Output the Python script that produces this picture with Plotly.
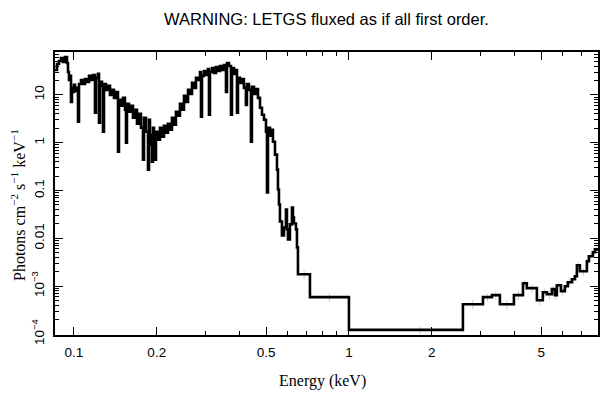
import math
import plotly.graph_objects as go

# Step-spectrum: bin left edges (keV) and flux (photons cm^-2 s^-1 keV^-1)
energy = [
    0.0840, 0.08673, 0.08819, 0.08969, 0.09120, 0.09274, 0.09431, 0.09510, 0.09590, 0.09671,
    0.09752, 0.09834, 0.09917, 0.1000, 0.10084, 0.10255, 0.10341, 0.10428, 0.10604, 0.10783,
    0.10965, 0.1115, 0.11339, 0.1153, 0.11725, 0.11923, 0.12023, 0.12226, 0.12329, 0.12433,
    0.12643, 0.12749, 0.12857, 0.13074, 0.13295, 0.1352, 0.13748, 0.13981, 0.14217, 0.14454,
    0.14576, 0.14822, 0.15073, 0.15327, 0.15456, 0.15586, 0.15849, 0.16117, 0.16389, 0.16666,
    0.16947, 0.17234, 0.17525, 0.17821, 0.17971, 0.18274, 0.18583, 0.18739, 0.18897, 0.19055,
    0.19216, 0.19377, 0.1954, 0.19705, 0.1987, 0.20202, 0.20543, 0.2089, 0.21242, 0.21601,
    0.21966, 0.22338, 0.22715, 0.23099, 0.23489, 0.23885, 0.24288, 0.24698, 0.25126, 0.2555,
    0.25983, 0.2642, 0.26866, 0.2732, 0.2778, 0.2825, 0.28725, 0.28968, 0.2921, 0.2970,
    0.30201, 0.30711, 0.30969, 0.3123, 0.31758, 0.32295, 0.32838, 0.33393, 0.33957, 0.3453,
    0.35117, 0.3571, 0.36012, 0.3662, 0.37237, 0.37548, 0.38182, 0.38826, 0.39151, 0.3948,
    0.40134, 0.40812, 0.4150, 0.4220, 0.42556, 0.43272, 0.44008, 0.44372, 0.45151, 0.45914,
    0.46688, 0.47475, 0.48276, 0.4909, 0.49916, 0.50335, 0.5076, 0.51615, 0.5249, 0.5293,
    0.53825, 0.5473, 0.55184, 0.5565, 0.56117, 0.57063, 0.58025, 0.59004, 0.5950, 0.6000,
    0.61013, 0.62044, 0.62566, 0.63092, 0.64158, 0.64698, 0.65242, 0.72142, 1.0, 2.597,
    3.072, 3.311, 3.540, 3.981, 4.295, 4.436, 4.826, 5.072, 5.248, 5.470,
    5.610, 5.702, 5.902, 6.098, 6.252, 6.471, 6.637, 6.746, 6.918, 7.334,
    7.458, 7.712, 7.846, 8.2,
]
flux = [
    33.2, 44.2, 51.1, 59.0, 48.7, 62.0, 46.4, 30.1, 20.5, 24.9,
    7.15, 14.0, 11.5, 16.2, 12.1, 14.0, 2.74, 16.9, 20.5, 16.9,
    21.5, 18.7, 24.9, 20.5, 26.1, 4.22, 22.6, 27.4, 2.61, 18.7,
    15.4, 1.69, 16.9, 12.7, 15.4, 10.0, 12.7, 8.66, 11.5, 0.649,
    7.87, 5.90, 8.66, 4.87, 1.0, 6.49, 4.42, 5.90, 3.32, 4.87,
    2.49, 4.02, 2.05, 0.442, 3.32, 1.69, 0.274, 3.02, 1.47, 0.909,
    0.402, 2.05, 1.155, 0.442, 1.69, 1.155, 2.05, 1.33, 2.26, 1.62,
    2.49, 1.87, 3.32, 2.37, 4.42, 3.65, 6.49, 4.87, 9.53, 7.15,
    12.7, 10.5, 17.8, 14.0, 22.6, 20.5, 30.1, 3.48, 24.9, 31.6,
    26.1, 34.8, 3.83, 30.1, 36.5, 28.7, 38.3, 31.6, 40.2, 33.2,
    42.2, 11.5, 46.4, 40.2, 3.83, 36.5, 27.4, 33.2, 4.22, 22.6,
    17.8, 21.5, 14.0, 6.19, 16.9, 12.7, 1.05, 14.7, 10.5, 13.3,
    8.66, 5.36, 3.83, 3.02, 1.69, 0.0908, 2.05, 1.40, 1.87, 1.05,
    0.562, 0.274, 0.105, 0.0511, 0.0226, 0.01155, 0.0169, 0.0402, 0.0154, 0.00953,
    0.0196, 0.0442, 0.0274, 0.0205, 0.0154, 0.00649, 0.00178, 0.00059, 0.000122, 0.00042,
    0.00059, 0.00065, 0.00042, 0.00065, 0.00115, 0.00091, 0.00051, 0.00075, 0.00068, 0.00087,
    0.00065, 0.00105, 0.00079, 0.0010, 0.00121, 0.0014, 0.00162, 0.00274, 0.00205, 0.00332,
    0.00422, 0.00511, 0.0059, 0.0059,
]

# Faint error bars (bin centres, values, 1-sigma)
err_energy = [0.6867, 0.8494, 1.81, 2.82, 3.19, 3.42, 3.75, 4.13, 4.36, 4.63,
              4.95, 5.16, 5.36, 5.54, 5.66, 5.80, 6.00, 6.17, 6.36, 6.55,
              6.69, 6.83, 7.12, 7.40, 7.58, 7.78, 7.95]
err_flux = [0.00178, 0.00059, 0.000122, 0.00042, 0.00059, 0.00065, 0.00042, 0.00065, 0.00115, 0.00091,
            0.00051, 0.00075, 0.00068, 0.00087, 0.00065, 0.00105, 0.00079, 0.0010, 0.00121, 0.0014,
            0.00162, 0.00274, 0.00205, 0.00332, 0.00422, 0.00511, 0.0059]
err_sigma = [0.0004, 0.00012, 0.00002, 0.00009, 0.00011, 0.00012, 0.00009, 0.00013, 0.0002, 0.00018,
             0.00011, 0.00015, 0.00014, 0.00017, 0.00013, 0.0002, 0.00016, 0.0002, 0.00024, 0.00028,
             0.0003, 0.0005, 0.0004, 0.0006, 0.0008, 0.0009, 0.001]

x_tickvals = [0.1, 0.2, 0.5, 1, 2, 5]
x_ticktext = ["0.1", "0.2", "0.5", "1", "2", "5"]
x_minor = [0.3, 0.4, 0.6, 0.7, 0.8, 0.9, 3, 4, 6, 7, 8]
y_tickvals = [1e-4, 1e-3, 0.01, 0.1, 1, 10]
y_ticktext = ["10<sup>−4</sup>", "10<sup>−3</sup>", "0.01", "0.1", "1", "10"]
y_minor = [k * 10.0 ** d for d in range(-4, 2) for k in range(2, 10) if k * 10.0 ** d < 80]

SANS = "Liberation Sans, Arial, sans-serif"
SERIF = "Liberation Serif, Times New Roman, serif"

fig = go.Figure()
fig.add_trace(go.Scatter(
    x=err_energy, y=err_flux, mode="markers",
    marker=dict(size=1, color="rgba(0,0,0,0)"),
    error_y=dict(type="data", array=err_sigma, color="#cccccc", thickness=1, width=0),
    hoverinfo="skip", showlegend=False,
))
fig.add_trace(go.Scatter(
    x=energy, y=flux, mode="lines",
    line=dict(shape="hv", color="black", width=2.6),
    showlegend=False,
))

axis_common = dict(
    showgrid=False, zeroline=False, showline=True, linecolor="black", linewidth=1.5,
    ticks="inside", ticklen=8, tickwidth=1.2, tickcolor="black", mirror="allticks",
    tickfont=dict(family=SANS, size=13.5, color="black"), automargin=False,
)

fig.update_xaxes(
    type="log", range=[math.log10(0.0853), math.log10(8.05)],
    tickmode="array", tickvals=x_tickvals, ticktext=x_ticktext,
    minor=dict(tickmode="array", tickvals=x_minor, ticks="inside", ticklen=4, tickcolor="black", tickwidth=1.2),
    ticklabelstandoff=4,
    **axis_common,
)
fig.update_yaxes(
    type="log", range=[-4.02, 1.896],
    tickmode="array", tickvals=y_tickvals, ticktext=y_ticktext, tickangle=-90,
    minor=dict(tickmode="array", tickvals=y_minor, ticks="inside", ticklen=4, tickcolor="black", tickwidth=1.2),
    ticklabelstandoff=4,
    **axis_common,
)

# The page adds an 8px body margin; margins compensate so the plot box sits at x 55-598, y 52-335.
fig.update_layout(
    width=609, height=399,
    margin=dict(l=47, r=19, t=44, b=72),
    paper_bgcolor="white", plot_bgcolor="white",
    annotations=[
        dict(text="WARNING: LETGS fluxed as if all first order.", xref="paper", yref="paper",
             x=0.5, y=(335 - 19) / 283, xanchor="center", yanchor="middle", showarrow=False,
             font=dict(family=SANS, size=16.5, color="black")),
        dict(text="Energy (keV)", xref="paper", yref="paper", x=(322 - 55) / 543, y=(335 - 381) / 283,
             xanchor="center", yanchor="middle", showarrow=False,
             font=dict(family=SERIF, size=16, color="black")),
        dict(text="Photons cm<sup>−2</sup> s<sup>−1</sup> keV<sup>−1</sup>", xref="paper", yref="paper",
             x=(18 - 55) / 543, y=(335 - 205) / 283, xanchor="center", yanchor="middle", textangle=-90,
             showarrow=False, font=dict(family=SERIF, size=16, color="black")),
    ],
)

fig.write_html("out.html")
